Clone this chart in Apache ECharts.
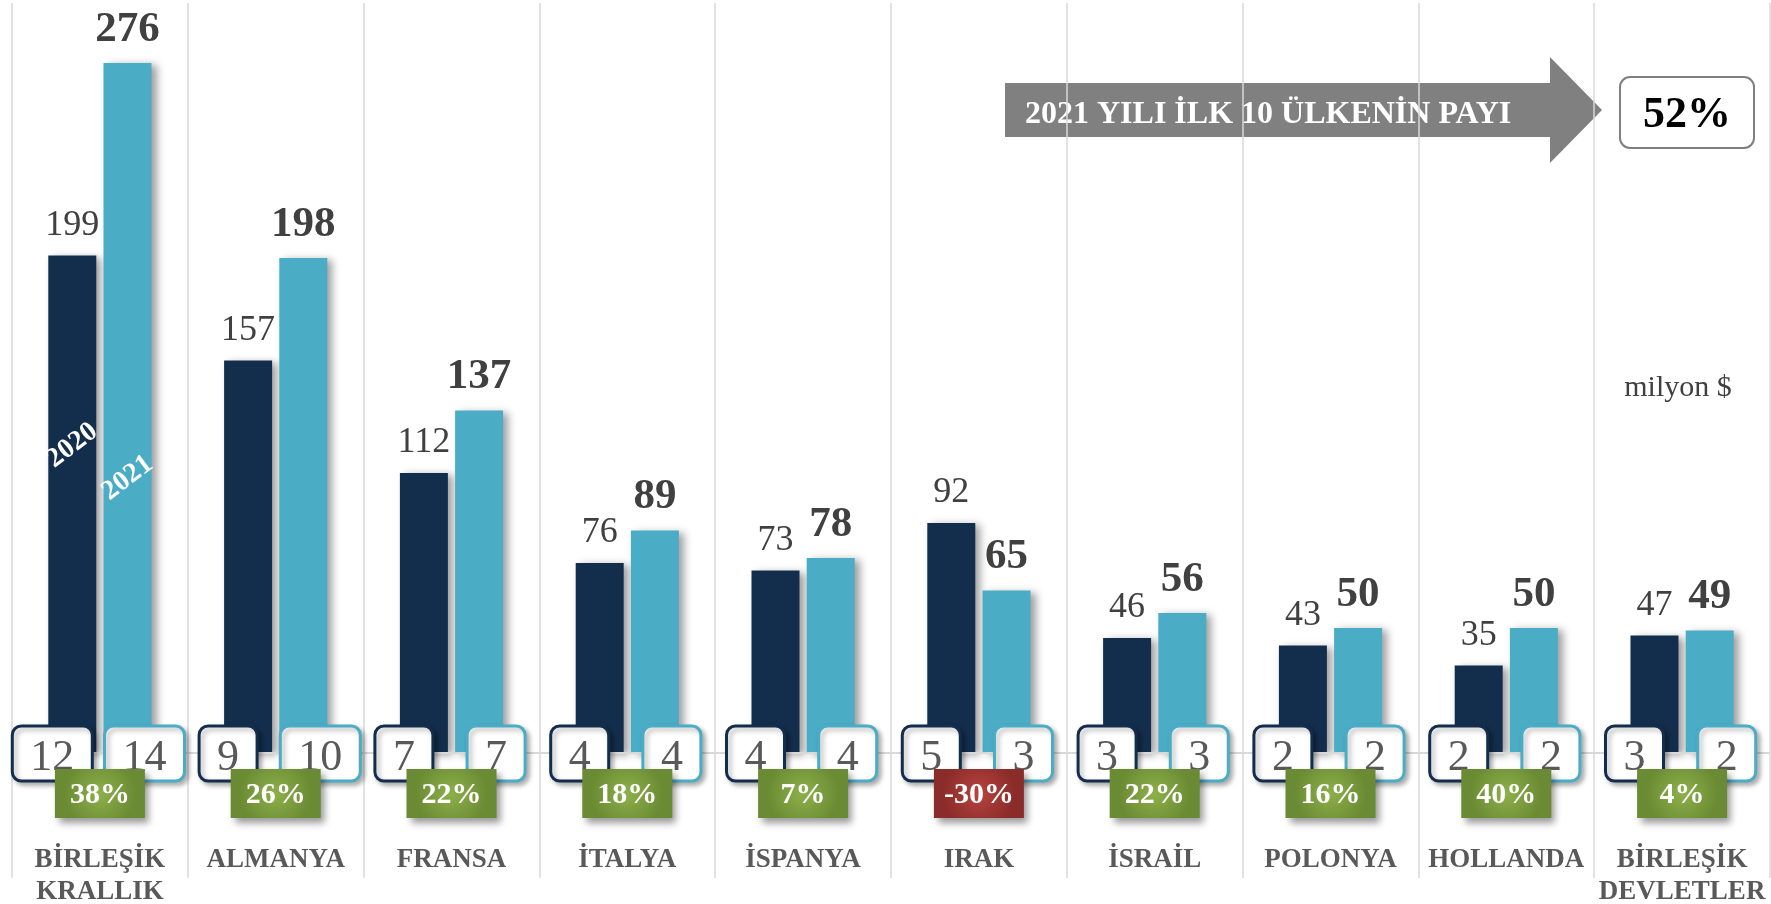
<!DOCTYPE html>
<html>
<head>
<meta charset="utf-8">
<title>2021 ilk 10 ülke</title>
<script src="https://cdn.jsdelivr.net/npm/echarts/dist/echarts.min.js"></script>
<style>
    html, body { margin: 0; padding: 0; background: #ffffff; }
    #chart { width: 1771px; height: 904px; }
</style>
</head>
<body>
<div id="chart"></div>
<script>
    // veriler (milyon $)
    const categories = ['BİRLEŞİK\nKRALLIK', 'ALMANYA', 'FRANSA', 'İTALYA', 'İSPANYA', 'IRAK', 'İSRAİL', 'POLONYA', 'HOLLANDA', 'BİRLEŞİK\nDEVLETLER'];
    const values2020 = [199, 157, 112, 76, 73, 92, 46, 43, 35, 47];
    const values2021 = [276, 198, 137, 89, 78, 65, 56, 50, 50, 49];
    const share2020 = [12, 9, 7, 4, 4, 5, 3, 2, 2, 3];
    const share2021 = [14, 10, 7, 4, 4, 3, 3, 2, 2, 2];
    const change = [38, 26, 22, 18, 7, -30, 22, 16, 40, 4];
    const topTenShare = '52%';

    const SERIF = '"Liberation Serif", "Times New Roman", serif';
    const DARK = '#132e4c';
    const LIGHT = '#4bacc6';
    const BAR_W = 48;
    const BAR_GAP = 0.15;
    const HALF = (BAR_W + BAR_W * BAR_GAP) / 2; // bar center offset from category center

    const barShadow = {
        shadowBlur: 8,
        shadowColor: 'rgba(0, 0, 0, 0.38)',
        shadowOffsetX: 5,
        shadowOffsetY: 2
    };

    // small rounded boxes + percent tags under the bars
    const renderTags = (params, api) => {
        const i = api.value(0);
        const base = api.coord([i, 0]);
        const cx = base[0];
        const y0 = base[1];
        const s20 = api.value(1);
        const s21 = api.value(2);
        const ch = api.value(3);

        const box = (center, val, border) => {
            const w = String(val).length > 1 ? 80 : 58;
            return [{
                type: 'rect',
                shape: { x: center - w / 2, y: y0 - 27, width: w, height: 55, r: 9 },
                style: {
                    fill: '#ffffff', stroke: border, lineWidth: 3,
                    shadowBlur: 5, shadowColor: 'rgba(0,0,0,0.3)', shadowOffsetX: 3, shadowOffsetY: 3
                }
            }, {
                type: 'text',
                style: {
                    x: center, y: y0 + 5, text: String(val),
                    font: '44px ' + SERIF, fill: '#595959',
                    align: 'center', verticalAlign: 'middle'
                }
            }];
        };

        const neg = ch < 0;
        const grad = new echarts.graphic.RadialGradient(0.5, 0.5, 0.75, [
            { offset: 0, color: neg ? '#b8433f' : '#8db04a' },
            { offset: 1, color: neg ? '#8a2c29' : '#6a8a33' }
        ]);

        return {
            type: 'group',
            children: [].concat(
                box(cx - HALF - 20, s20, DARK),
                box(cx + HALF + 17, s21, LIGHT),
                [{
                    type: 'rect',
                    shape: { x: cx - 45, y: y0 + 16, width: 90, height: 49 },
                    style: {
                        fill: grad,
                        shadowBlur: 7, shadowColor: 'rgba(0,0,0,0.4)', shadowOffsetX: 4, shadowOffsetY: 5
                    }
                }, {
                    type: 'text',
                    style: {
                        x: cx, y: y0 + 42, text: ch + '%',
                        font: 'bold 30px ' + SERIF, fill: '#ffffff',
                        align: 'center', verticalAlign: 'middle'
                    }
                }]
            )
        };
    };

    // rotated year names inside the first pair of bars
    const renderYears = (params, api) => {
        const p = api.coord([api.value(0), api.value(1)]);
        const dx = params.dataIndex === 0 ? -HALF : HALF;
        return {
            type: 'text',
            x: p[0] + dx,
            y: p[1],
            rotation: 37 * Math.PI / 180,
            style: {
                text: params.dataIndex === 0 ? '2020' : '2021',
                font: 'bold 28px ' + SERIF, fill: '#ffffff',
                align: 'center', verticalAlign: 'middle'
            }
        };
    };

    const chart = echarts.init(document.getElementById('chart'));

    const options = {
        animation: false,
        grid: { left: 12, right: 1, top: 3, bottom: 26, containLabel: false, outerBoundsMode: 'none' },
        xAxis: {
            type: 'category',
            data: categories,
            boundaryGap: true,
            axisLine: { show: false, onZero: false },
            axisTick: { show: false },
            axisLabel: {
                interval: 0,
                margin: -34,
                color: '#595959',
                fontFamily: SERIF,
                fontWeight: 'bold',
                fontSize: 27,
                lineHeight: 32
            },
            splitLine: { show: true, lineStyle: { color: '#d9d9d9', width: 1.5 } }
        },
        yAxis: {
            type: 'value',
            min: -50,
            max: 300,
            show: false,
            splitLine: { show: false }
        },
        series: [
            {
                name: '2020',
                type: 'bar',
                data: values2020,
                barWidth: BAR_W,
                barGap: (BAR_GAP * 100) + '%',
                itemStyle: Object.assign({ color: DARK }, barShadow),
                label: {
                    show: true, position: 'top', distance: 12,
                    fontFamily: SERIF, fontSize: 36, color: '#404040'
                },
                // zero line
                markLine: {
                    silent: true,
                    symbol: 'none',
                    label: { show: false },
                    lineStyle: { color: '#d9d9d9', width: 2, type: 'solid' },
                    data: [{ yAxis: 0 }]
                }
            },
            {
                name: '2021',
                type: 'bar',
                data: values2021,
                barWidth: BAR_W,
                itemStyle: Object.assign({ color: LIGHT }, barShadow),
                label: {
                    show: true, position: 'top', distance: 12,
                    fontFamily: SERIF, fontSize: 43, fontWeight: 'bold', color: '#404040'
                }
            },
            {
                type: 'custom',
                z: 5,
                renderItem: renderTags,
                encode: { x: 0, y: 1 },
                data: categories.map((c, i) => [i, share2020[i], share2021[i], change[i]])
            },
            {
                type: 'custom',
                z: 6,
                renderItem: renderYears,
                encode: { x: 0, y: 1 },
                data: [[0, 123], [0, 110]]
            }
        ],
        graphic: [
            {
                type: 'polygon',
                shape: { points: [[1005, 83], [1550, 83], [1550, 57], [1602, 110], [1550, 163], [1550, 137], [1005, 137]] },
                style: { fill: '#808080' }
            },
            {
                type: 'text',
                style: {
                    x: 1025, y: 115, text: '2021 YILI İLK 10 ÜLKENİN PAYI',
                    font: 'bold 32px ' + SERIF, fill: '#ffffff',
                    align: 'left', verticalAlign: 'middle'
                }
            },
            {
                type: 'rect',
                shape: { x: 1620, y: 77, width: 134, height: 71, r: 10 },
                style: { fill: '#ffffff', stroke: '#7f7f7f', lineWidth: 2 }
            },
            {
                type: 'text',
                style: {
                    x: 1687, y: 116, text: topTenShare,
                    font: 'bold 44px ' + SERIF, fill: '#000000',
                    align: 'center', verticalAlign: 'middle'
                }
            },
            {
                type: 'text',
                style: {
                    x: 1678, y: 388, text: 'milyon $',
                    font: '30px ' + SERIF, fill: '#404040',
                    align: 'center', verticalAlign: 'middle'
                }
            }
        ]
    };

    chart.setOption(options);
</script>
</body>
</html>
